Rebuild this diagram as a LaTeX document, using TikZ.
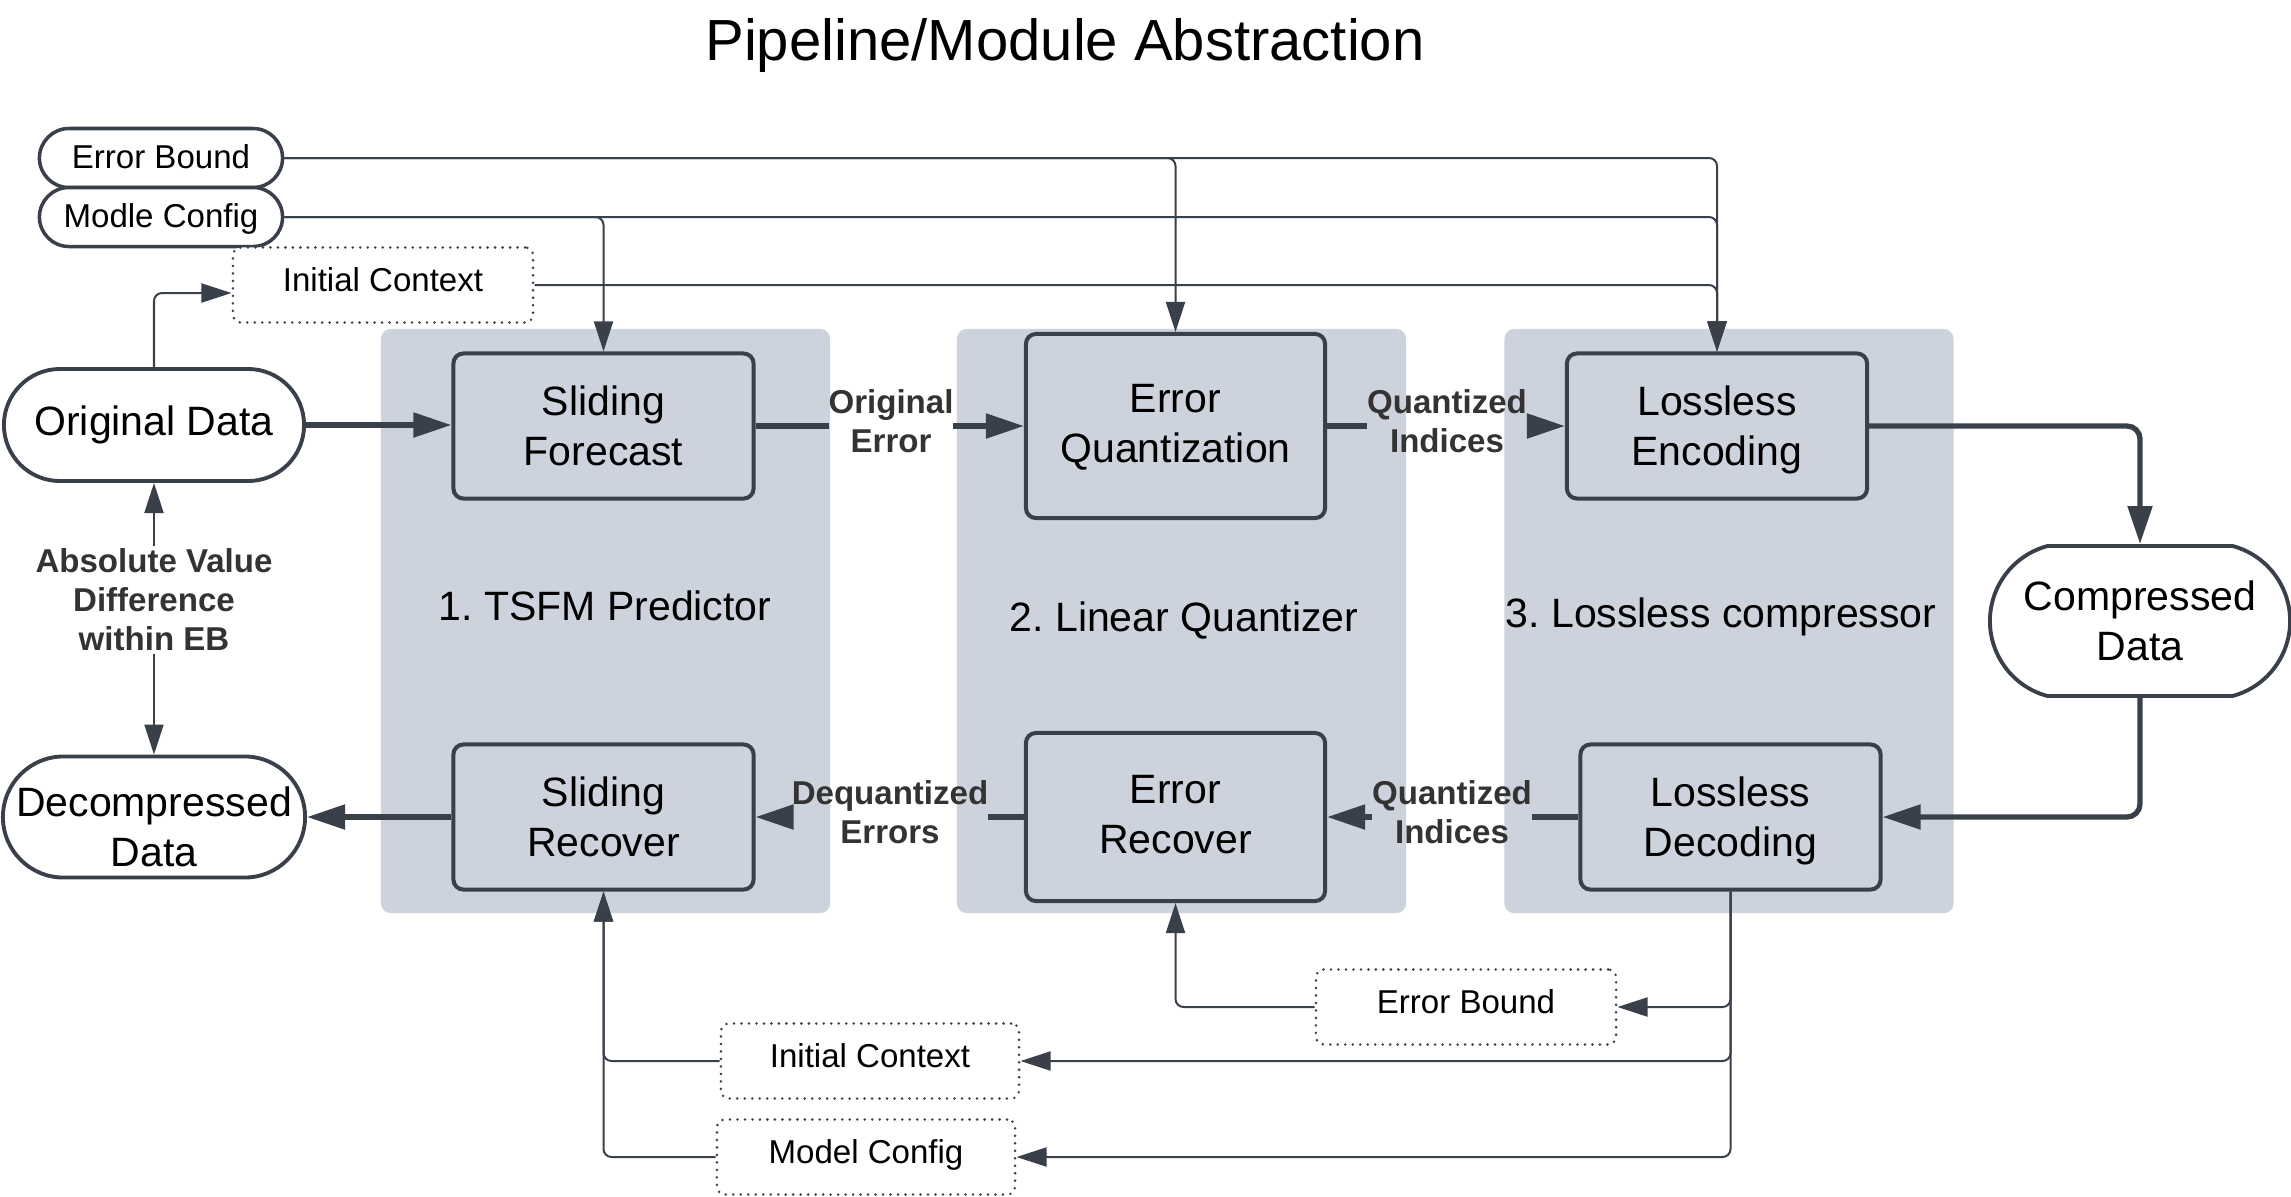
\documentclass[tikz,border=0pt]{standalone}
\usepackage{fontspec}
\setmainfont{Liberation Sans}
\usetikzlibrary{arrows.meta,shapes.misc}
\definecolor{linec}{RGB}{58,64,74}
\definecolor{panelc}{RGB}{205,211,220}
\definecolor{labc}{RGB}{51,51,51}
\frenchspacing
\begin{document}
\begin{tikzpicture}[x=0.01cm,y=-0.01cm,
 bigfont/.style={font=\fontsize{11.66}{14.2}\selectfont},
 smallfont/.style={font=\fontsize{9.4}{11.3}\selectfont},
 panel/.style={fill=panelc,draw=none,rounded corners=0.1cm,inner sep=0,outer sep=0,minimum width=4.49cm,minimum height=5.84cm},
 proc/.style={draw=linec,line width=1.14pt,fill=panelc,rounded corners=0.1cm,align=center,inner sep=0,minimum width=3cm,minimum height=1.45cm,text depth=0pt,bigfont},
 term/.style={rounded rectangle,draw=linec,line width=1.1pt,fill=white,align=center,inner sep=0,minimum width=3cm,bigfont},
 pill/.style={rounded rectangle,draw=linec,line width=1pt,fill=white,inner sep=0,minimum width=2.43cm,minimum height=0.59cm,text height=7pt,text depth=1pt,smallfont},
 dotbox/.style={draw=linec,line width=0.8pt,line cap=round,dash pattern=on 0pt off 2.13pt,rounded corners=0.08cm,fill=white,minimum width=3cm,minimum height=0.75cm,inner sep=0,text height=7pt,text depth=3.3pt,smallfont},
 elab/.style={inner sep=0,outer sep=0,align=center,text=labc,font=\bfseries\fontsize{9.4}{11.1}\selectfont},
 plab/.style={inner sep=0,bigfont},
 thinarrow/.style={draw=linec,line width=0.57pt,rounded corners=0.08cm,-{Triangle[length=0.30cm,width=0.19cm]}},
 bline/.style={draw=linec,line width=1.5pt,rounded corners=0.13cm},
 barrow/.style={bline,-{Triangle[length=0.38cm,width=0.24cm]}},
]
\useasboundingbox (0,0) rectangle (2291,1196);

% title
\node[inner sep=0,font=\fontsize{16.5}{19}\selectfont] (title) at (1065,45) {Pipeline/Module Abstraction};

% panels
\node[panel] (p1) at (605.5,621) {};
\node[panel] (p2) at (1181.5,621) {};
\node[panel] (p3) at (1729,621) {};
\node[plab] (t1) at (605,606) {1. TSFM Predictor};
\node[plab] (t2) at (1184,620) {2. Linear Quantizer};
\node[plab] (t3) at (1721,617) {3. Lossless compressor};

% process boxes
\node[proc] (sf) at (603.5,426) {Sliding\\Forecast};
\node[proc,minimum width=2.99cm,minimum height=1.84cm,text depth=1.7pt] (eq) at (1175.5,426) {Error\\Quantization};
\node[proc] (le) at (1717,426) {Lossless\\Encoding};
\node[proc] (sr) at (603.5,817) {Sliding\\Recover};
\node[proc,minimum width=2.99cm,minimum height=1.68cm,text depth=1.7pt] (er) at (1175.5,817) {Error\\Recover};
\node[proc] (ld) at (1730.5,817) {Lossless\\Decoding};

% terminals
\node[term,minimum height=1.12cm] (od) at (154,425) {Original Data};
\node[term,minimum height=1.21cm,minimum width=3.02cm,
  label={[bigfont,align=center,inner sep=0,yshift=-2.9pt]center:{Decompressed\\Data}}] (dd) at (154,817) {};
\node[term,minimum height=1.5cm,rounded rectangle arc length=150] (cd) at (2140,621) {Compressed\\Data};

% inputs top
\node[pill] (eb) at (161,158) {Error Bound};
\node[pill] (mc) at (161,217) {Modle Config};
\node[dotbox] (ic) at (383,285) {Initial Context};

% inputs bottom
\node[dotbox] (eb2) at (1466,1007) {Error Bound};
\node[dotbox,minimum width=2.98cm] (ic2) at (870,1061) {Initial Context};
\node[dotbox,minimum width=2.98cm] (mc2) at (866,1157) {Model Config};

% edge labels
\node[elab] (l1) at (891,421) {Original\\Error};
\node[elab] (l2) at (1447,421) {Quantized\\Indices};
\node[elab] (l3) at (890,812) {Dequantized\\Errors};
\node[elab] (l4) at (1452,812) {Quantized\\Indices};
\node[elab,inner ysep=0.03cm] (av) at (154,600) {Absolute Value\\Difference\\within EB};

% main flow
\draw[barrow] (od.east) -- (od.east -| sf.west);
\draw[bline] (sf.east) -- (sf.east -| l1.west);
\draw[barrow] (sf.east -| l1.east) -- (sf.east -| eq.west);
\draw[bline] (eq.east |- sf.east) -- (sf.east -| l2.west);
\draw[barrow] (sf.east -| l2.east) -- (le.west);
\draw[barrow] (le.east) -| (cd.north);
\draw[barrow] (cd.south) |- (ld.east);
\draw[bline] (ld.west) -- (ld.west -| l4.east);
\draw[barrow] (ld.west -| l4.west) -- (er.east);
\draw[bline] (er.west) -- (er.west -| l3.east);
\draw[barrow] (er.west -| l3.west) -- (sr.east);
\draw[barrow] (sr.west) -- (sr.west -| dd.east);

% verification
\draw[thinarrow] (av.north) -- (od.south);
\draw[thinarrow] (av.south) -- (dd.north);

% top inputs
\draw[thinarrow] (od.north) |- ([shift={(0,8)}]ic.west);
\draw[thinarrow] (eb.east) -| (eq.north);
\draw[thinarrow] (eb.east) -| (le.north);
\draw[thinarrow] (mc.east) -| (sf.north);
\draw[thinarrow] (mc.east) -| (le.north);
\draw[thinarrow] (ic.east) -| (le.north);

% bottom inputs
\draw[thinarrow] (ld.south) |- (eb2.east);
\draw[thinarrow] (ld.south) |- (ic2.east);
\draw[thinarrow] (ld.south) |- (mc2.east);
\draw[thinarrow] (eb2.west) -| (er.south);
\draw[thinarrow] (ic2.west) -| (sr.south);
\draw[thinarrow] (mc2.west) -| (sr.south);
\end{tikzpicture}
\end{document}
